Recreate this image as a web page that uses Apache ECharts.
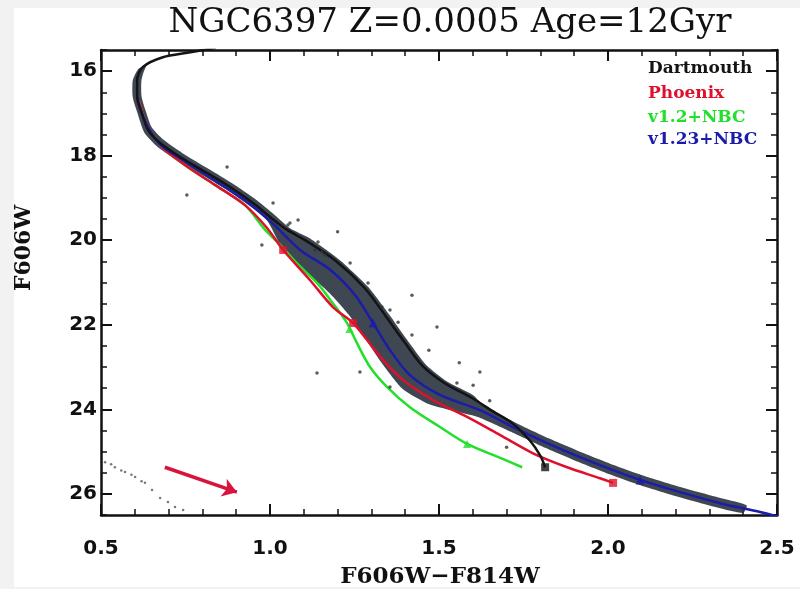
<!DOCTYPE html>
<html><head><meta charset="utf-8">
<script src="https://cdn.jsdelivr.net/npm/echarts@6/dist/echarts.min.js"></script>
<style>html,body{margin:0;padding:0;background:#f2f2f2}#c{width:800px;height:589px}</style>
</head><body><div id="c"></div>
<script>
// ---- data ----
const titleText = 'NGC6397 Z=0.0005 Age=12Gyr';
const xName = 'F606W\u2212F814W';
const yName = 'F606W';
const xTicks = [0.5, 1.0, 1.5, 2.0, 2.5];
const yMajorTicks = [16, 18, 20, 22, 24, 26];
const legendNames = ['Dartmouth', 'Phoenix', 'v1.2+NBC', 'v1.23+NBC'];

// observed main-sequence cloud outline (colour, magnitude)
const cloudX = [0.700,0.636,0.620,0.620,0.633,0.650,0.684,0.741,0.820,0.888,0.957,1.008,1.060,1.115,1.205,1.290,1.352,1.405,1.462,1.525,1.600,1.630,1.725,1.826,1.923,2.021,2.101,2.219,2.338,2.410,
                2.400,2.326,2.207,2.089,2.009,1.911,1.814,1.713,1.615,1.535,1.465,1.390,1.330,1.280,1.233,1.175,1.097,1.042,0.992,0.943,0.876,0.808,0.727,0.666,0.628,0.609,0.594,0.594,0.612,0.666];
const cloudY = [15.60,15.86,16.20,16.60,16.96,17.33,17.62,17.94,18.32,18.65,19.03,19.36,19.72,19.94,20.46,21.10,21.75,22.35,22.95,23.35,23.66,23.88,24.31,24.69,25.02,25.33,25.56,25.85,26.11,26.27,
                26.45,26.33,26.07,25.78,25.55,25.24,24.91,24.53,24.18,24.02,23.86,23.50,22.90,22.30,21.76,21.24,20.68,20.28,19.54,19.21,18.83,18.50,18.12,17.78,17.45,17.02,16.62,16.22,15.94,15.74];

// field stars around the sequence
const fieldX = [0.873,0.754,1.009,1.059,1.083,1.053,1.142,1.133,1.154,1.163,1.237,1.290,1.331,1.355,1.379,1.420,1.494,1.266,1.139,1.621,1.553,1.601,1.355,0.976,1.560,1.650,1.470,1.700,1.200,1.420];
const fieldY = [18.27,18.93,19.12,19.59,19.52,19.64,20.04,20.23,20.28,20.35,20.54,21.01,21.58,21.65,21.94,22.24,22.05,23.12,23.14,23.12,23.38,23.43,23.47,20.11,22.90,23.80,22.60,24.90,19.80,21.30];

// white-dwarf-like sequence at lower left
const wdX = [0.512,0.541,0.571,0.601,0.630,0.651,0.675,0.698,0.719,0.743,0.560,0.620,0.530,0.590];
const wdY = [25.25,25.37,25.48,25.60,25.74,25.91,26.10,26.19,26.31,26.38,25.45,25.70,25.30,25.55];

// isochrones
const dartX = [0.840,0.760,0.683,0.624,0.607,0.607,0.621,0.639,0.675,0.734,0.814,0.882,0.950,1.000,1.050,1.100,1.195,1.280,1.342,1.395,1.452,1.518,1.595,1.660,1.720,1.770,1.800,1.814];
const dartY = [15.45,15.56,15.67,15.90,16.21,16.61,16.99,17.39,17.70,18.03,18.41,18.74,19.12,19.45,19.75,19.98,20.49,21.13,21.79,22.38,22.98,23.39,23.72,24.05,24.35,24.75,25.10,25.37];

const phxX = [0.612,0.630,0.675,0.748,0.837,0.926,0.990,1.039,1.118,1.186,1.246,1.287,1.334,1.394,1.482,1.583,1.681,1.778,1.879,1.976,2.015];
const phxY = [16.70,17.16,17.75,18.22,18.69,19.17,19.70,20.23,20.94,21.58,21.96,22.36,22.83,23.31,23.78,24.18,24.61,25.04,25.37,25.63,25.74];

const v12X = [0.612,0.630,0.675,0.748,0.837,0.926,0.985,1.035,1.080,1.139,1.186,1.228,1.257,1.296,1.346,1.414,1.503,1.583,1.681,1.746];
const v12Y = [16.70,17.16,17.75,18.22,18.69,19.17,19.75,20.15,20.55,21.01,21.49,21.96,22.43,23.00,23.47,23.95,24.42,24.82,25.15,25.37];

const v123X = [0.607,0.621,0.670,0.745,0.835,0.930,1.010,1.089,1.178,1.252,1.305,1.355,1.414,1.503,1.621,1.719,1.820,1.917,2.015,2.095,2.213,2.332,2.450,2.509];
const v123Y = [16.60,17.02,17.70,18.12,18.58,19.08,19.62,20.23,20.70,21.30,21.96,22.60,23.19,23.66,24.02,24.42,24.80,25.13,25.44,25.67,25.96,26.22,26.43,26.55];

// marked points on isochrones
const dartMarkX = [1.814], dartMarkY = [25.37];
const phxMarkX = [1.039, 1.246, 2.015], phxMarkY = [20.23, 21.96, 25.74];
const v12MarkX = [1.235, 1.583], v12MarkY = [22.10, 24.82];
const v123MarkX = [1.305, 2.095], v123MarkY = [21.96, 25.67];

// reddening arrow
const arrowFrom = [0.689, 25.37], arrowTo = [0.902, 25.96];

const zip = (a, b) => a.map((v, i) => [v, b[i]]);
const C = { black: '#141414', red: '#e0102c', green: '#22e02a', blue: '#1c1ca8' };
const chart = echarts.init(document.getElementById('c'), null, { renderer: 'canvas' });

const xBase = {
  type: 'value', min: 0.5, max: 2.5, interval: 0.5,
  axisLine: { lineStyle: { color: '#111', width: 2.5 } },
  axisTick: { inside: true, length: 11, lineStyle: { color: '#111', width: 2 } },
  minorTick: { show: true, splitNumber: 5, length: 6, lineStyle: { color: '#111', width: 1.5 } },
  splitLine: { show: false }, minorSplitLine: { show: false }
};
const yMinor = {
  type: 'value', inverse: true, min: 15.5, max: 26.5, interval: 0.5,
  axisLine: { show: true, lineStyle: { color: '#111', width: 2.5 } },
  axisTick: { inside: true, length: 6, lineStyle: { color: '#111', width: 1.5 } },
  splitLine: { show: false }
};
const yMajor = {
  type: 'value', inverse: true, min: 15.5, max: 26.5,
  axisLine: { show: false },
  axisTick: { inside: true, length: 11, customValues: yMajorTicks, lineStyle: { color: '#111', width: 2 } },
  axisLabel: { show: false }, splitLine: { show: false }
};
const lblFont = { fontFamily: 'DejaVu Sans', fontWeight: 'bold', fontSize: 20, color: '#111' };

chart.setOption({
  animation: false,
  backgroundColor: '#f2f2f2',
  grid: { left: 101, right: 23, top: 50, bottom: 74, containLabel: false },
  xAxis: [
    Object.assign({}, xBase, { position: 'bottom', axisLabel: Object.assign({ margin: 24, customValues: xTicks, formatter: v => v.toFixed(1) }, lblFont) }),
    Object.assign({}, xBase, { position: 'top', axisLabel: { show: false } })
  ],
  yAxis: [
    Object.assign({}, yMinor, { position: 'left', axisLabel: Object.assign({ margin: 4, customValues: yMajorTicks, formatter: v => String(v) }, lblFont) }),
    Object.assign({}, yMajor, { position: 'left' }),
    Object.assign({}, yMinor, { position: 'right', axisLabel: { show: false } }),
    Object.assign({}, yMajor, { position: 'right' })
  ],
  graphic: [
    { type: 'rect', z: -10, shape: { x: 14, y: 8, width: 786, height: 579 }, style: { fill: '#ffffff' } },
    { type: 'text', x: 450, y: 23, style: { text: titleText, font: '34px "DejaVu Serif"', fill: '#111', align: 'center', verticalAlign: 'middle' } },
    { type: 'text', x: 440, y: 577, style: { text: xName, font: 'bold 23px "DejaVu Serif"', fill: '#111', align: 'center', verticalAlign: 'middle' } },
    { type: 'text', x: 24, y: 248, rotation: Math.PI / 2, style: { text: yName, font: 'bold 22px "DejaVu Serif"', fill: '#111', align: 'center', verticalAlign: 'middle' } },
    { type: 'text', x: 648, y: 69, style: { text: legendNames[0], font: 'bold 17px "DejaVu Serif"', fill: C.black, align: 'left', verticalAlign: 'middle' } },
    { type: 'text', x: 648, y: 94, style: { text: legendNames[1], font: 'bold 17px "DejaVu Serif"', fill: C.red, align: 'left', verticalAlign: 'middle' } },
    { type: 'text', x: 648, y: 118, style: { text: legendNames[2], font: 'bold 17px "DejaVu Serif"', fill: C.green, align: 'left', verticalAlign: 'middle' } },
    { type: 'text', x: 648, y: 140, style: { text: legendNames[3], font: 'bold 17px "DejaVu Serif"', fill: C.blue, align: 'left', verticalAlign: 'middle' } }
  ],
  series: [
    { type: 'custom', name: 'cloud', z: 1, clip: true, data: zip(cloudX, cloudY),
      renderItem: (params, api) => {
        if (params.dataIndex !== 0) return null;
        const pts = cloudX.map((x, i) => api.coord([x, cloudY[i]]));
        return { type: 'polygon', shape: { points: pts, smooth: 0.2 }, style: { fill: '#2a333f', opacity: 0.9 } };
      } },
    { type: 'line', name: 'v1.2+NBC', z: 2, data: zip(v12X, v12Y), smooth: 0.3, showSymbol: false, lineStyle: { color: C.green, width: 2.5 } },
    { type: 'line', name: 'Phoenix', z: 3, data: zip(phxX, phxY), smooth: 0.3, showSymbol: false, lineStyle: { color: C.red, width: 2.5 } },
    { type: 'line', name: 'v1.23+NBC', z: 3, data: zip(v123X, v123Y), smooth: 0.3, showSymbol: false, lineStyle: { color: C.blue, width: 2.5 } },
    { type: 'line', name: 'Dartmouth', z: 3, data: zip(dartX, dartY), smooth: 0.3, showSymbol: false, lineStyle: { color: C.black, width: 2.5 } },
    { type: 'scatter', name: 'field', z: 4, data: zip(fieldX, fieldY), symbolSize: 3.5, itemStyle: { color: '#333' } },
    { type: 'scatter', name: 'wd', z: 4, data: zip(wdX, wdY), symbolSize: 2.5, itemStyle: { color: '#555' } },
    { type: 'scatter', z: 5, data: zip(dartMarkX, dartMarkY), symbol: 'rect', symbolSize: 8, itemStyle: { color: C.black } },
    { type: 'scatter', z: 5, data: zip(phxMarkX, phxMarkY), symbol: 'rect', symbolSize: 8, itemStyle: { color: C.red } },
    { type: 'scatter', z: 5, data: zip(v12MarkX, v12MarkY), symbol: 'triangle', symbolSize: 8, itemStyle: { color: C.green } },
    { type: 'scatter', z: 5, data: zip(v123MarkX, v123MarkY), symbol: 'triangle', symbolSize: 9, itemStyle: { color: C.blue } },
    { type: 'lines', coordinateSystem: 'cartesian2d', z: 5, symbol: ['none', 'arrow'], symbolSize: 14,
      lineStyle: { color: '#d8143c', width: 3.5, opacity: 1 }, data: [{ coords: [arrowFrom, arrowTo] }] }
  ]
});
</script></body></html>
